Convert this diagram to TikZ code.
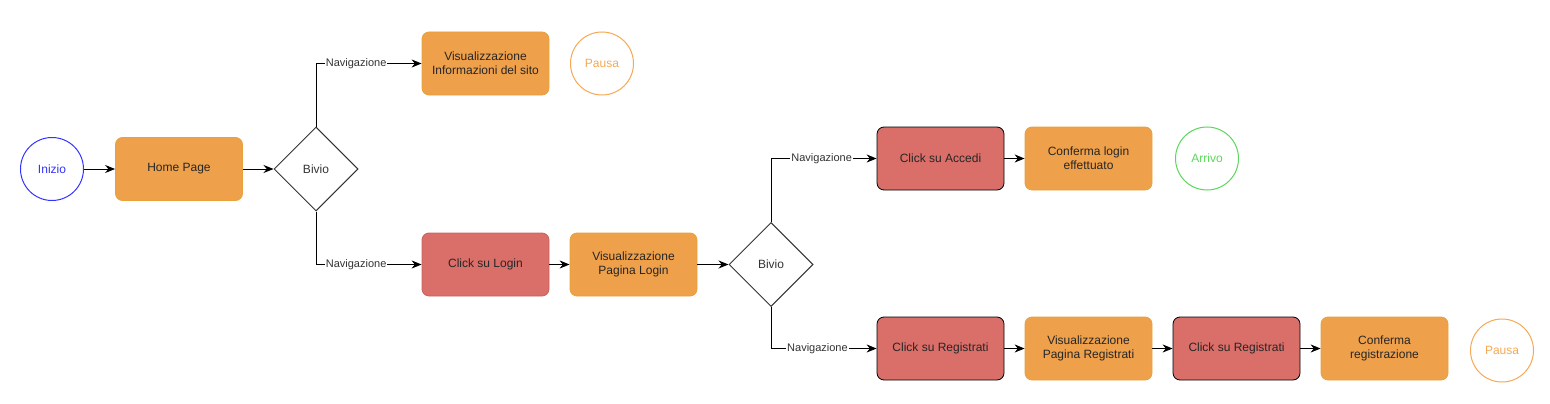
\documentclass[tikz,border=0pt]{standalone}
\usepackage{fontspec}
\setmainfont{Liberation Sans}
\usetikzlibrary{shapes.geometric,arrows.meta}
\definecolor{orf}{HTML}{EFA04A}
\definecolor{orb}{HTML}{E9A23B}
\definecolor{rdf}{HTML}{DA6E69}
\definecolor{rdb}{HTML}{C8625D}
\definecolor{blu}{HTML}{3333FF}
\definecolor{grn}{HTML}{5BD75B}
\definecolor{pau}{HTML}{F5A855}
\definecolor{lblc}{HTML}{333333}
\tikzset{
  box/.style={rectangle, rounded corners=7pt, minimum width=127pt, minimum height=63pt, align=center, font=\fontsize{12}{14}\selectfont, text=black!85, line width=0.8pt},
  obox/.style={box, fill=orf, draw=orb},
  rbox/.style={box, fill=rdf, draw=rdb},
  kbox/.style={box, fill=rdf, draw=black},
  circ/.style={circle, minimum size=63pt, inner sep=0pt, line width=1pt, font=\fontsize{12}{14}\selectfont},
  dia/.style={diamond, draw=black!80, line width=1pt, minimum width=84pt, minimum height=84pt, inner sep=0pt, aspect=1, font=\fontsize{12}{14}\selectfont, text=black!80},
  arr/.style={-{Stealth[length=10pt,width=8pt]}, line width=1pt, black},
  lbl/.style={fill=white, inner sep=1pt, font=\fontsize{11}{12}\selectfont, text=lblc},
}
\begin{document}
\begin{tikzpicture}[x=1pt,y=-1pt]
\useasboundingbox (0,0) rectangle (1550,404);
\node[circ, draw=blu, text=blu] (inizio) at (52,169) {Inizio};
\node[obox] (home) at (179,169) {Home Page};
\node[dia] (b1) at (316,169) {Bivio};
\node[obox] (vis1) at (485.5,63.5) {Visualizzazione\\Informazioni del sito};
\node[circ, draw=pau, text=pau] (pausa1) at (602,63.5) {Pausa};
\node[rbox] (login) at (485.5,264.5) {Click su Login};
\node[obox] (vislogin) at (633.5,264.5) {Visualizzazione\\Pagina Login};
\node[dia] (b2) at (771,264.5) {Bivio};
\node[kbox] (accedi) at (940.5,158.5) {Click su Accedi};
\node[obox] (conflogin) at (1088.5,158.5) {Conferma login\\effettuato};
\node[circ, draw=grn, text=grn] (arrivo) at (1207,158.5) {Arrivo};
\node[kbox] (reg1) at (940.5,348.5) {Click su Registrati};
\node[obox] (visreg) at (1088.5,348.5) {Visualizzazione\\Pagina Registrati};
\node[kbox] (reg2) at (1236.5,348.5) {Click su Registrati};
\node[obox] (confreg) at (1384.5,348.5) {Conferma\\registrazione};
\node[circ, draw=pau, text=pau] (pausa2) at (1502,350.5) {Pausa};

\draw[arr] (inizio) -- (home);
\draw[arr] (home) -- (b1);
\draw[arr] (b1.north) |- node[lbl, pos=0.69] {Navigazione} (vis1.west);
\draw[arr] (b1.south) |- node[lbl, pos=0.69] {Navigazione} (login.west);
\draw[arr] (login) -- (vislogin);
\draw[arr] (vislogin) -- (b2);
\draw[arr] (b2.north) |- node[lbl, pos=0.74] {Navigazione} (accedi.west);
\draw[arr] (accedi) -- (conflogin);
\draw[arr] (b2.south) |- node[lbl, pos=0.72] {Navigazione} (reg1.west);
\draw[arr] (reg1) -- (visreg);
\draw[arr] (visreg) -- (reg2);
\draw[arr] (reg2) -- (confreg);
\end{tikzpicture}
\end{document}
